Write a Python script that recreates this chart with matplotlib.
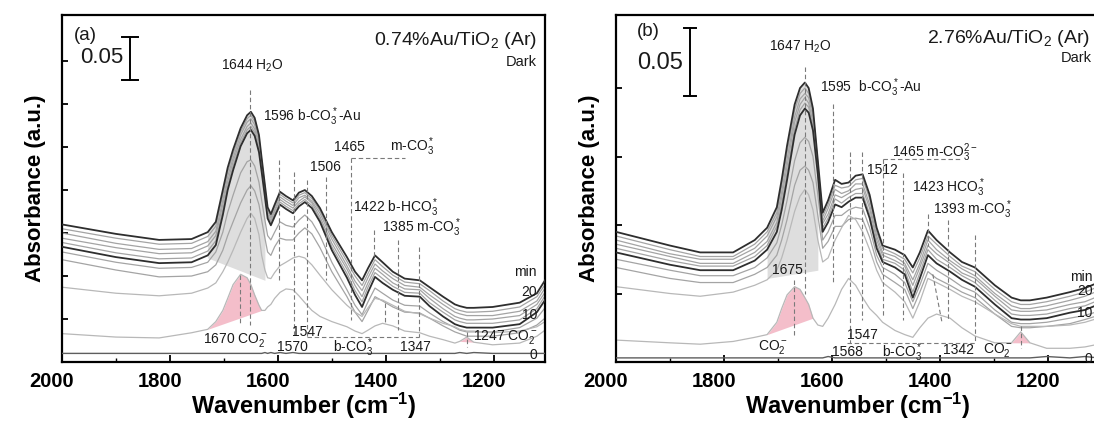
import numpy as np
import matplotlib
matplotlib.use('Agg')
import matplotlib.pyplot as plt
from matplotlib.ticker import MultipleLocator
from matplotlib.transforms import ScaledTranslation

plt.rcParams['font.family'] = ['Liberation Sans', 'DejaVu Sans']
plt.rcParams['mathtext.fontset'] = 'custom'
plt.rcParams['mathtext.rm'] = 'Liberation Sans'
plt.rcParams['mathtext.it'] = 'Liberation Sans:italic'
plt.rcParams['mathtext.bf'] = 'Liberation Sans:bold'
plt.rcParams['mathtext.sf'] = 'Liberation Sans'

DPI = 100

# ---- panel (a) 0.74%Au/TiO2, absorbance in mAbs (stacked as plotted) ----
wn_a = [2000, 1900, 1820, 1760, 1730, 1715, 1702, 1693, 1683, 1669,
        1657, 1650, 1643, 1635, 1630, 1624, 1619, 1613, 1606, 1596,
        1585, 1572, 1561, 1550, 1537, 1522, 1500, 1472, 1457, 1444,
        1433, 1420, 1406, 1387, 1365, 1337, 1319, 1294, 1272, 1263,
        1250, 1237, 1202, 1152, 1120, 1105]
a_20 = [160, 149, 142, 143, 151, 163, 200, 226, 247, 272, 287, 291, 284, 264, 237, 206, 180, 172, 183, 198,
        193, 188, 197, 200, 193, 179, 151, 122, 105, 95, 109, 124, 116, 105, 97, 95, 87, 76, 67, 65,
        63, 63, 64, 69, 80, 95]
a_18 = [155, 144, 137, 138, 146, 158, 194, 221, 242, 268, 283, 287, 280, 260, 234, 203, 177, 169, 180, 195,
        190, 185, 194, 197, 190, 176, 147, 117, 100, 89, 103, 119, 111, 101, 93, 91, 83, 71, 62, 60,
        58, 58, 59, 64, 76, 90]
a_16 = [150, 138, 131, 132, 140, 152, 188, 216, 237, 264, 279, 283, 276, 256, 231, 200, 175, 167, 177, 192,
        187, 182, 191, 194, 187, 173, 143, 112, 94, 83, 98, 114, 106, 97, 89, 87, 78, 67, 58, 56,
        54, 54, 54, 59, 71, 86]
a_14 = [144, 133, 126, 127, 135, 147, 183, 210, 233, 259, 274, 278, 271, 252, 227, 198, 172, 164, 175, 189,
        184, 179, 187, 192, 185, 169, 138, 108, 89, 76, 92, 109, 102, 92, 85, 84, 74, 62, 53, 51,
        49, 49, 50, 54, 67, 81]
a_12 = [139, 127, 120, 121, 129, 141, 177, 205, 228, 255, 270, 274, 267, 248, 224, 195, 170, 162, 172, 186,
        181, 176, 184, 189, 182, 166, 134, 103, 83, 70, 87, 104, 97, 88, 81, 80, 69, 58, 49, 47,
        45, 45, 45, 49, 62, 77]
a_10 = [134, 122, 115, 116, 124, 136, 171, 200, 223, 251, 266, 270, 263, 244, 221, 192, 167, 159, 169, 183,
        178, 173, 181, 186, 179, 163, 130, 98, 78, 64, 81, 99, 92, 84, 77, 76, 65, 53, 44, 42,
        40, 40, 40, 44, 58, 72]
a_8 = [128, 116, 109, 110, 116, 128, 151, 174, 194, 220, 233, 235, 228, 209, 188, 165, 147, 142, 151, 163,
       159, 157, 165, 171, 163, 147, 116, 84, 66, 55, 70, 86, 80, 72, 66, 65, 57, 47, 40, 37,
       35, 35, 35, 40, 51, 63]
a_6 = [119, 107, 99, 100, 105, 113, 130, 147, 163, 185, 200, 205, 199, 183, 165, 144, 128, 124, 134, 144,
       142, 142, 150, 156, 149, 133, 105, 76, 58, 47, 60, 76, 71, 64, 58, 57, 51, 42, 35, 33,
       30, 30, 30, 34, 43, 51]
a_4 = [87, 80, 77, 80, 86, 92, 105, 116, 130, 151, 167, 173, 167, 148, 124, 107, 98, 97, 104, 112,
       116, 121, 123, 121, 113, 101, 84, 66, 58, 53, 63, 74, 72, 66, 59, 56, 51, 45, 41, 38,
       36, 36, 34, 36, 41, 47]
a_2 = [33, 29, 28, 34, 38, 47, 60, 74, 90, 102, 98, 90, 78, 66, 60, 60, 64, 67, 74, 81,
       85, 84, 77, 69, 60, 53, 47, 41, 36, 33, 37, 42, 45, 42, 36, 34, 30, 26, 22, 24,
       29, 23, 20, 22, 30, 37]
a_0 = [10, 10, 10, 10, 10, 10, 10, 10, 10, 10, 10, 10, 10, 10, 10, 11, 10, 11, 10, 11,
       10, 11, 10, 10, 10, 10, 10, 10, 10, 10, 10, 10, 10, 10, 10, 10, 10, 10, 10, 11,
       10, 11, 10, 10, 10, 10]

# ---- panel (b) 2.76%Au/TiO2 ----
wn_b = [2000, 1900, 1844, 1783, 1743, 1720, 1702, 1693, 1683, 1669,
        1659, 1650, 1643, 1635, 1626, 1617, 1607, 1594, 1582, 1569,
        1556, 1543, 1530, 1517, 1506, 1483, 1465, 1450, 1437, 1422,
        1406, 1381, 1359, 1335, 1298, 1267, 1250, 1233, 1202, 1159,
        1131, 1106]
b_20 = [95, 85, 80, 80, 89, 98, 113, 133, 158, 188, 200, 204, 200, 185, 147, 109, 118, 133, 130, 131,
        136, 137, 122, 98, 85, 82, 78, 69, 80, 96, 89, 80, 73, 69, 56, 47, 45, 45, 47, 51,
        54, 58]
b_18 = [92, 82, 77, 77, 86, 95, 109, 129, 153, 184, 196, 200, 196, 182, 145, 106, 115, 129, 127, 128,
        133, 134, 119, 95, 83, 79, 75, 65, 76, 92, 86, 77, 70, 66, 53, 44, 42, 42, 44, 48,
        51, 55]
b_16 = [89, 79, 75, 75, 83, 92, 106, 124, 148, 179, 192, 196, 193, 179, 143, 103, 112, 126, 123, 125,
        130, 130, 115, 92, 80, 77, 72, 60, 72, 89, 82, 74, 68, 63, 50, 41, 39, 39, 41, 45,
        48, 52]
b_14 = [86, 77, 72, 72, 80, 88, 102, 120, 143, 175, 188, 193, 189, 175, 141, 101, 108, 122, 120, 123,
        126, 127, 112, 89, 78, 74, 70, 56, 69, 85, 79, 72, 65, 61, 48, 38, 37, 37, 38, 42,
        44, 48]
b_12 = [83, 74, 70, 70, 77, 85, 99, 115, 138, 170, 184, 189, 186, 172, 139, 98, 105, 119, 116, 120,
        123, 123, 108, 86, 75, 72, 67, 51, 65, 82, 75, 69, 63, 58, 45, 35, 34, 34, 35, 39,
        41, 45]
b_10 = [80, 71, 67, 67, 74, 82, 95, 111, 133, 166, 180, 185, 182, 169, 137, 95, 102, 115, 113, 117,
        120, 120, 105, 83, 73, 69, 64, 47, 61, 78, 72, 66, 60, 55, 42, 32, 31, 31, 32, 36,
        38, 42]
b_8 = [75, 67, 63, 63, 69, 76, 87, 100, 118, 147, 160, 164, 161, 150, 122, 89, 95, 107, 107, 111,
       113, 112, 98, 78, 69, 64, 58, 44, 56, 72, 67, 61, 55, 51, 38, 29, 28, 28, 29, 32,
       34, 37]
b_6 = [69, 61, 58, 58, 64, 69, 78, 89, 104, 129, 140, 143, 140, 131, 107, 83, 88, 99, 99, 104,
       105, 104, 91, 73, 64, 58, 53, 39, 51, 66, 61, 56, 51, 47, 35, 26, 25, 25, 26, 28,
       31, 34]
b_4 = [55, 50, 48, 51, 56, 60, 67, 76, 89, 110, 121, 126, 122, 111, 89, 73, 76, 89, 98, 107,
       104, 95, 82, 67, 58, 51, 44, 32, 44, 61, 58, 53, 48, 44, 35, 28, 26, 26, 26, 27,
       29, 32]
b_2 = [16, 14, 13, 15, 18, 20, 29, 39, 49, 55, 53, 47, 42, 32, 27, 26, 32, 42, 53, 61,
       56, 47, 39, 34, 29, 23, 20, 18, 25, 32, 35, 32, 25, 19, 14, 14, 22, 14, 10, 10,
       11, 13]
b_0 = [3, 3, 3, 3, 3, 3, 3, 3, 3, 3, 3, 3, 3, 3, 3, 3, 4, 3, 3, 3,
       3, 3, 3, 3, 3, 3, 3, 3, 3, 3, 3, 3, 3, 3, 3, 3, 3, 3, 4, 3,
       4, 3]

DARK = '#2e2e2e'
MID = '#a4a4a4'
LOW = '#b8b8b8'
DASH = '#7a7a7a'


def draw_panel(ax, wn, curves, grey_fill, pink_fills, texts, dashes, bar, ylim, ytick_max):
    wn = np.array(wn, dtype=float)

    # grey H2O area between a straight baseline and the top spectrum
    i0, i1, b0, b1 = grey_fill
    x = wn[i0:i1 + 1]
    top = np.array(curves[0][0], dtype=float)[i0:i1 + 1]
    base = np.interp(x, [wn[i1], wn[i0]], [b1, b0])
    ax.fill_between(x, base, top, color='#dedede', lw=0, zorder=1)

    # pink CO2- peaks under the lowest spectrum
    for vals, j0, j1 in pink_fills:
        y = np.array(vals, dtype=float)[j0:j1 + 1]
        x = wn[j0:j1 + 1]
        base = np.interp(x, [x[-1], x[0]], [y[-1], y[0]])
        ax.fill_between(x, base, y, color='#f3b7c5', lw=0, alpha=0.9, zorder=1.5)

    for vals, color, lw, z in curves:
        ax.plot(wn, vals, color=color, lw=lw, zorder=z)

    for xs, ys in dashes:
        ax.plot(xs, ys, color=DASH, lw=0.8, ls=(0, (4, 2.5)), zorder=4)

    for x, y, s, ha, size in texts:
        ax.text(x, y, s, ha=ha, va='center', fontsize=size, color='#1a1a1a', zorder=5)

    # 0.05 scale bar
    bx, by0, by1, half = bar
    ax.plot([bx, bx], [by0, by1], color='k', lw=1.4, zorder=5)
    ax.plot([bx + half, bx - half], [by0, by0], color='k', lw=1.4, zorder=5)
    ax.plot([bx + half, bx - half], [by1, by1], color='k', lw=1.4, zorder=5)

    ax.set_xlim(2000, 1105)
    ax.set_ylim(*ylim)
    ax.set_xticks([2000, 1800, 1600, 1400, 1200])
    ax.xaxis.set_minor_locator(MultipleLocator(100))
    ax.set_yticks(np.arange(0, ytick_max + 1, 50))
    ax.set_yticklabels([])
    ax.tick_params(axis='both', which='both', direction='in', top=False, right=False)
    ax.tick_params(axis='x', which='major', length=5, width=1.3, pad=7, labelsize=14.5)
    ax.tick_params(axis='x', which='minor', length=3, width=1.0)
    ax.tick_params(axis='y', which='major', length=4, width=1.3)
    for lab in ax.get_xticklabels():
        lab.set_fontweight('bold')
        lab.set_transform(lab.get_transform() + ScaledTranslation(-10 / DPI, 0, ax.figure.dpi_scale_trans))
    for sp in ax.spines.values():
        sp.set_linewidth(1.6)
    ax.set_xlabel(r'Wavenumber (cm$^{\mathbf{-1}}$)', fontsize=17, fontweight='bold', labelpad=0)
    ax.set_ylabel('Absorbance (a.u.)', fontsize=16, fontweight='bold', labelpad=8)


fig = plt.figure(figsize=(1094 / DPI, 421 / DPI), dpi=DPI)
ax_a = fig.add_axes([62 / 1094, 59 / 421, 483 / 1094, 347 / 421])
ax_b = fig.add_axes([616 / 1094, 59 / 421, 483 / 1094, 347 / 421])

curves_a = [(a_20, DARK, 1.3, 3), (a_18, MID, 0.9, 2), (a_16, MID, 0.9, 2), (a_14, MID, 0.9, 2),
            (a_12, MID, 0.9, 2), (a_10, DARK, 1.3, 3), (a_8, MID, 0.9, 2), (a_6, MID, 0.9, 2),
            (a_4, LOW, 0.9, 2), (a_2, LOW, 0.9, 2), (a_0, '#5e5e5e', 1.0, 3)]
texts_a = [
    (1978, 380, '(a)', 'left', 13.5),
    (1967, 354, '0.05', 'left', 16),
    (1120, 374, r'0.74%Au/TiO$_2$ (Ar)', 'right', 14),
    (1120, 349, 'Dark', 'right', 10.5),
    (1648, 345, r'1644 H$_2$O', 'center', 10),
    (1628, 285, r'1596 b-CO$_3^*$-Au', 'left', 10),
    (1467, 250, '1465', 'center', 10),
    (1393, 250, r'm-CO$_3^*$', 'left', 10),
    (1511, 227, '1506', 'center', 10),
    (1461, 179, r'1422 b-HCO$_3^*$', 'left', 10),
    (1407, 156, r'1385 m-CO$_3^*$', 'left', 10),
    (1120, 105, 'min', 'right', 10),
    (1120, 81, '20', 'right', 10),
    (1120, 55, '10', 'right', 10),
    (1120, 8, '0', 'right', 10),
    (1739, 26, r'1670 CO$_2^-$', 'left', 10),
    (1574, 35, '1547', 'left', 10),
    (1602, 17, '1570', 'left', 10),
    (1498, 17, r'b-CO$_3^*$', 'left', 10),
    (1374, 17, '1347', 'left', 10),
    (1239, 29, r'1247 CO$_2^-$', 'left', 10),
]
dashes_a = [
    ([1652, 1652], [316, 43]), ([1670, 1670], [101, 43]), ([1598, 1598], [235, 95]),
    ([1570, 1570], [221, 29]), ([1546, 1546], [212, 29]), ([1511, 1511], [215, 95]),
    ([1465, 1465], [237, 49]), ([1465, 1365], [237, 237]), ([1422, 1422], [154, 122]),
    ([1402, 1402], [69, 45]), ([1378, 1378], [142, 37]), ([1339, 1339], [134, 29]),
    ([1546, 1339], [29, 29]), ([1250, 1250], [35, 17]),
]
draw_panel(ax_a, wn_a, curves_a, (4, 15, 121, 95), [(a_2, 4, 14), (a_2, 39, 41)],
           texts_a, dashes_a, (1874, 328, 378, 14), (0, 403.6), 350)

curves_b = [(b_20, DARK, 1.3, 3), (b_18, MID, 0.9, 2), (b_16, MID, 0.9, 2), (b_14, MID, 0.9, 2),
            (b_12, MID, 0.9, 2), (b_10, DARK, 1.3, 3), (b_8, MID, 0.9, 2), (b_6, MID, 0.9, 2),
            (b_4, LOW, 0.9, 2), (b_2, LOW, 0.9, 2), (b_0, '#5e5e5e', 1.0, 3)]
texts_b = [
    (1962, 241, '(b)', 'left', 13.5),
    (1961, 218, '0.05', 'left', 17),
    (1122, 236, r'2.76%Au/TiO$_2$ (Ar)', 'right', 14),
    (1119, 222, 'Dark', 'right', 10.5),
    (1659, 230, r'1647 H$_2$O', 'center', 10),
    (1622, 200, r'1595  b-CO$_3^*$-Au', 'left', 10),
    (1489, 153, r'1465 m-CO$_3^{2-}$', 'left', 10),
    (1535, 140, '1512', 'left', 10),
    (1452, 127, r'1423 HCO$_3^*$', 'left', 10),
    (1413, 111, r'1393 m-CO$_3^*$', 'left', 10),
    (1711, 67, '1675', 'left', 10),
    (1737, 11, r'CO$_2^-$', 'left', 10),
    (1572, 20, '1547', 'left', 10),
    (1600, 7, '1568', 'left', 10),
    (1507, 7, r'b-CO$_3^*$', 'left', 10),
    (1394, 9, '1342', 'left', 10),
    (1320, 9, r'CO$_2^-$', 'left', 10),
    (1117, 62, 'min', 'right', 10),
    (1117, 52, '20', 'right', 10),
    (1117, 36, '10', 'right', 10),
    (1117, 2, '0', 'right', 10),
]
dashes_b = [
    ([1650, 1650], [215, 50]), ([1598, 1598], [188, 58]), ([1506, 1506], [148, 33]),
    ([1506, 1359], [148, 148]), ([1469, 1469], [138, 31]), ([1567, 1567], [153, 14]),
    ([1544, 1544], [153, 31]), ([1572, 1335], [14, 14]), ([1335, 1335], [93, 14]),
    ([1385, 1385], [104, 31]), ([1422, 1422], [108, 85]), ([1413, 1396], [64, 29]),
    ([1670, 1670], [60, 18]), ([1250, 1250], [26, 10]),
]
draw_panel(ax_b, wn_b, curves_b, (5, 14, 61, 67), [(b_2, 5, 13), (b_2, 35, 37)],
           texts_b, dashes_b, (1863, 194, 244, 11), (0, 253.3), 200)

fig.savefig('out.png', dpi=DPI)
plt.close(fig)
